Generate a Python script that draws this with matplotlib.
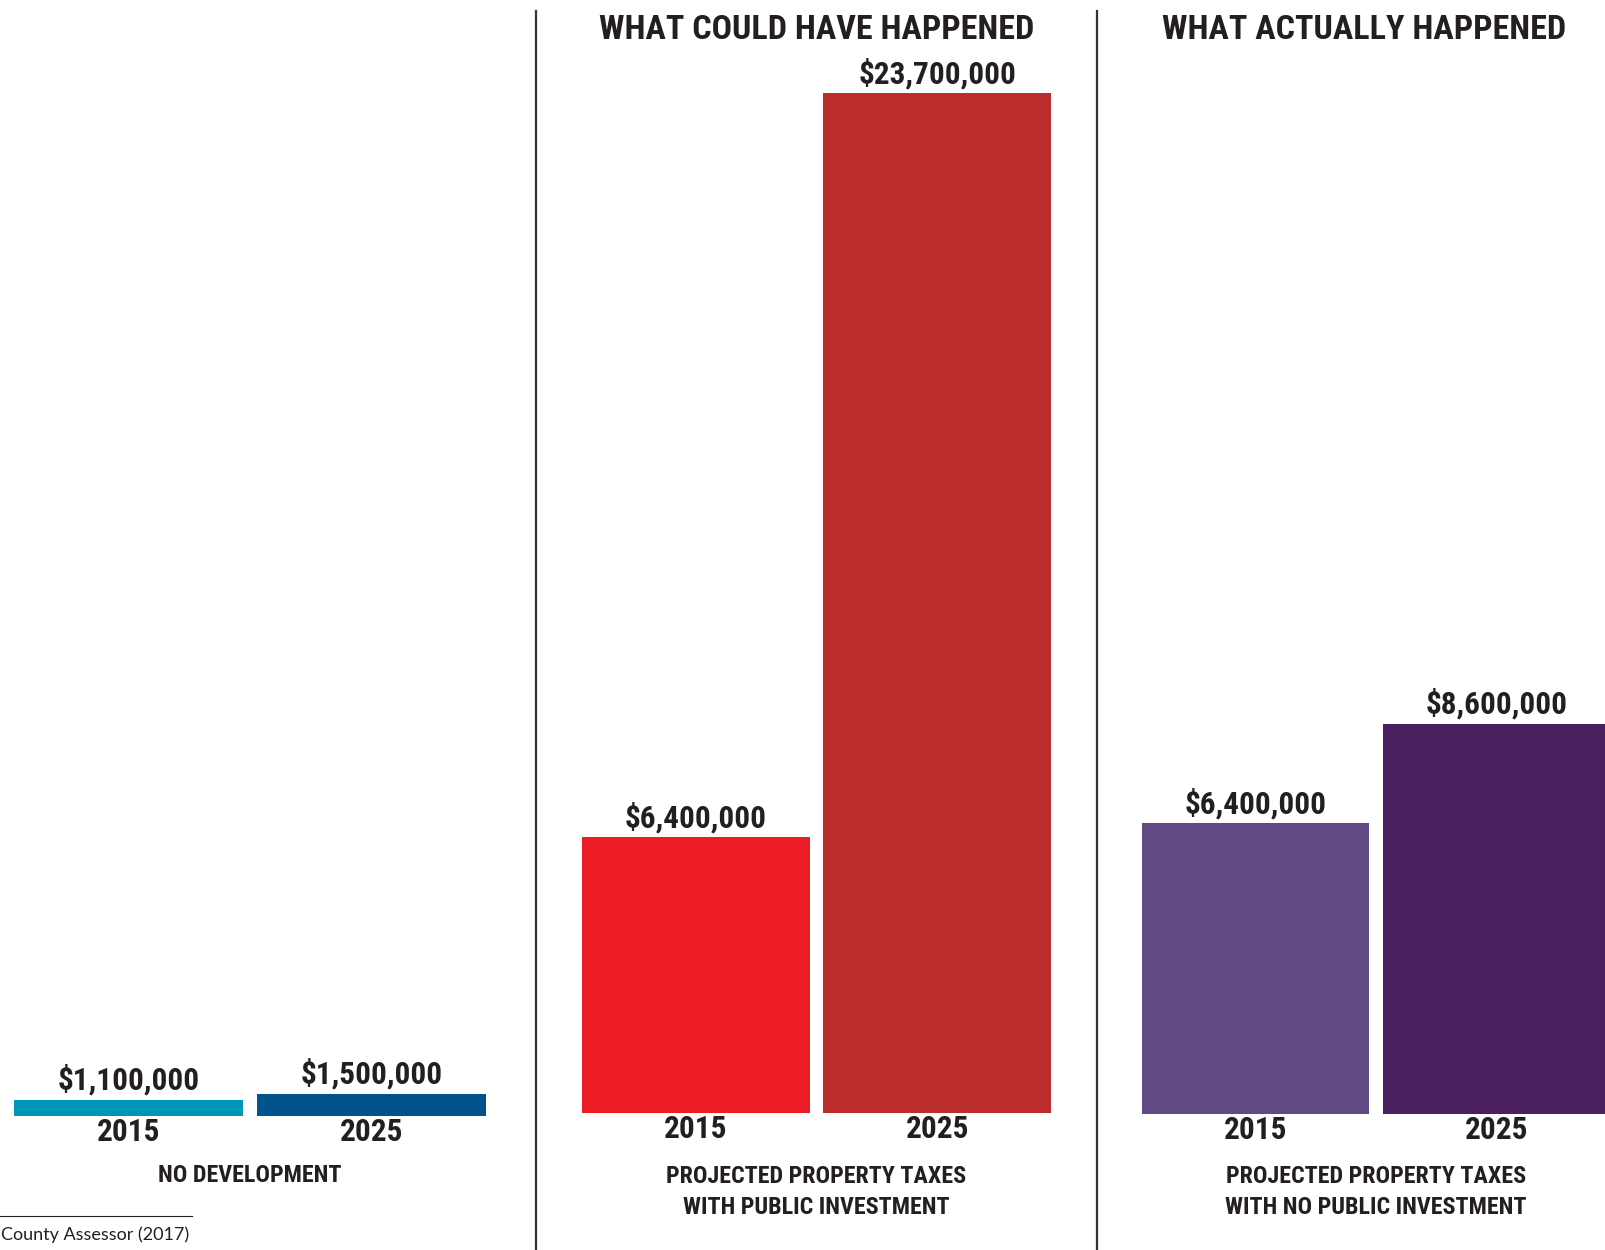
import matplotlib
matplotlib.use("Agg")
import matplotlib.pyplot as plt
from matplotlib import font_manager
from matplotlib.lines import Line2D

# DATA
years = ["2015", "2025"]
no_development = [1100000, 1500000]
with_investment = [6400000, 23700000]
no_investment = [6400000, 8600000]

titles = ["WHAT COULD HAVE HAPPENED", "WHAT ACTUALLY HAPPENED"]
panel_labels = ["NO DEVELOPMENT",
                "PROJECTED PROPERTY TAXES\nWITH PUBLIC INVESTMENT",
                "PROJECTED PROPERTY TAXES\nWITH NO PUBLIC INVESTMENT"]
source = "County Assessor (2017)"

colors = [["#0096b8", "#00538b"],
          ["#ed1c24", "#bb2d2b"],
          ["#614a84", "#4a2060"]]
ink = "#231f20"

# pick a condensed font if one is there
names = {f.name for f in font_manager.fontManager.ttflist}
cond = "DejaVu Sans"
for c in ["Roboto Condensed", "Liberation Sans Narrow", "Open Sans Condensed"]:
    if c in names:
        cond = c
        break
plain = "Lato" if "Lato" in names else "DejaVu Sans"

W, H = 1606, 1250
fig = plt.figure(figsize=(W / 100, H / 100), dpi=100)
fig.patch.set_facecolor("white")


def box(left, top, right, bottom):
    return [left / W, 1 - bottom / H, (right - left) / W, (bottom - top) / H]


# left px, right px, baseline px, px per million
panels = [(7, 493, 1116, 14.5, no_development),
          (575, 1058, 1112.5, 43.0, with_investment),
          (1135, 1617, 1114, 45.4, no_investment)]

for k, (l, r, base, ppm, vals) in enumerate(panels):
    ax = fig.add_axes(box(l, 60, r, base))
    ax.bar([0, 1], vals, width=0.945, color=colors[k])
    ax.set_xlim(-0.5, 1.5)
    ax.set_ylim(0, (base - 60) / ppm * 1e6)
    ax.axis("off")
    for i, v in enumerate(vals):
        ax.annotate("${:,}".format(v), (i, v), xytext=(0, 20), textcoords="offset pixels",
                    ha="center", va="center", fontsize=22.5, fontweight="bold",
                    family=cond, color=ink, annotation_clip=False)
        ax.annotate(years[i], (i, 0), xytext=(0, -16), textcoords="offset pixels",
                    ha="center", va="center", fontsize=22.5, fontweight="bold",
                    family=cond, color=ink, annotation_clip=False)
    off = 1176 - base if k == 0 else 1192 - base
    ax.annotate(panel_labels[k], (0.5, 0), xycoords="axes fraction", xytext=(0, -off),
                textcoords="offset pixels", ha="center", va="center", fontsize=17.3,
                fontweight="bold", family=cond, color=ink, linespacing=1.42,
                annotation_clip=False)

fig.text(817 / W, 1 - 30 / H, titles[0], ha="center", va="center", fontsize=24.5,
         fontweight="bold", family=cond, color=ink)
fig.text(1364 / W, 1 - 30 / H, titles[1], ha="center", va="center", fontsize=24.5,
         fontweight="bold", family=cond, color=ink)

# separators
for x in [536, 1097.5]:
    fig.add_artist(Line2D([x / W, x / W], [0, 1 - 11 / H], color="#333333", lw=1.6))

# source note
fig.add_artist(Line2D([0, 192 / W], [1 - 1216 / H, 1 - 1216 / H], color=ink, lw=0.8))
fig.text(1 / W, 1 - 1235 / H, source, ha="left", va="center", fontsize=13,
         family=plain, color=ink)

fig.savefig("out.png", dpi=100)
